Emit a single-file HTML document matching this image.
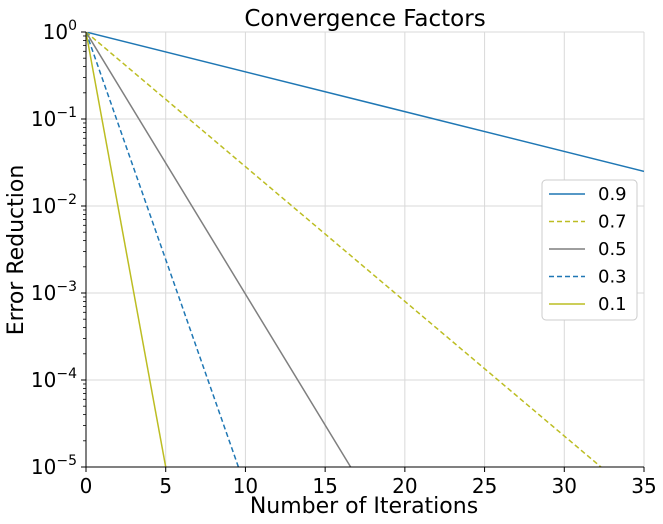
<!DOCTYPE html>
<html><head><meta charset="utf-8"><style>
body{margin:0;background:#fff;}
svg{display:block;font-family:"DejaVu Sans","Liberation Sans",sans-serif;}
</style></head><body>
<svg id="chart" width="663" height="524">
</svg>
<script>
const seriesLabels = ["0.9","0.7","0.5","0.3","0.1"];
const series09x = [0, 35];   const series09y = [1, 0.025];
const series07x = [0, 32.3]; const series07y = [1, 1e-5];
const series05x = [0, 16.6]; const series05y = [1, 1e-5];
const series03x = [0, 9.56]; const series03y = [1, 1e-5];
const series01x = [0, 5];    const series01y = [1, 1e-5];
const xTicks = [0,5,10,15,20,25,30,35];
const yTickExps = [0,-1,-2,-3,-4,-5];

const NS="http://www.w3.org/2000/svg";
const svg=document.getElementById('chart');
const X0=86,X1=644,Y0=32,Y1=467;
const sx=v=>X0+(v-0)/(35-0)*(X1-X0);
const sy=v=>Y0+(0-Math.log10(v))/5*(Y1-Y0);
function mk(t,a,p){const e=document.createElementNS(NS,t);for(const k in a)e.setAttribute(k,a[k]);(p||svg).appendChild(e);return e;}

xTicks.forEach(t=>{const l=mk('line',{x1:sx(t),x2:sx(t),y1:Y0,y2:Y1,stroke:'#d9d9d9','stroke-width':1});

});
yTickExps.forEach(e=>{const y=sy(Math.pow(10,e));const l=mk('line',{x1:X0,x2:X1,y1:y,y2:y,stroke:'#d9d9d9','stroke-width':1});

});

const defs=mk('defs',{});const cp=mk('clipPath',{id:'clip'},defs);mk('rect',{x:X0,y:Y0,width:X1-X0,height:Y1-Y0},cp);

const allS=[[series09x,series09y,'#1f77b4',''],[series07x,series07y,'#bcbd22','5,3'],[series05x,series05y,'#7f7f7f',''],[series03x,series03y,'#1f77b4','5,3'],[series01x,series01y,'#bcbd22','']];
allS.forEach((s,i)=>{
  const pts=s[0].map((x,j)=>sx(x)+','+sy(s[1][j])).join(' ');
  const p=mk('polyline',{points:pts,fill:'none',stroke:s[2],'stroke-width':1.5,'stroke-dasharray':s[3],'clip-path':'url(#clip)'});
  
  
});

mk('line',{x1:X0,x2:X0,y1:Y0,y2:Y1,stroke:'#000','stroke-width':1});
mk('line',{x1:X0,x2:X1,y1:Y1,y2:Y1,stroke:'#000','stroke-width':1});

xTicks.forEach(t=>{mk('line',{x1:sx(t),x2:sx(t),y1:Y1,y2:Y1+5,stroke:'#000'});
const tx=mk('text',{x:sx(t),y:Y1+26,'font-size':20,'text-anchor':'middle'});tx.textContent=t;

});
yTickExps.forEach(e=>{const y=sy(Math.pow(10,e));mk('line',{x1:X0-5,x2:X0,y1:y,y2:y,stroke:'#000'});
for(let m=2;m<10&&e>-5;m++){const ym=sy(Math.pow(10,e-1)*m);mk('line',{x1:X0-3,x2:X0,y1:ym,y2:ym,stroke:'#000','stroke-width':0.8});}
const tx=mk('text',{x:X0-9,y:y+7,'font-size':20,'text-anchor':'end'});
tx.innerHTML='10<tspan dy="-9" font-size="14">'+(e<0?'\u2212'+(-e):e)+'</tspan>';

});

let t=mk('text',{x:365,y:26,'font-size':23,'text-anchor':'middle'});t.textContent='Convergence Factors';


t=mk('text',{x:364,y:513,'font-size':22,'text-anchor':'middle'});t.textContent='Number of Iterations';


t=mk('text',{x:23,y:250,'font-size':22,'text-anchor':'middle',transform:'rotate(-90 23 250)'});t.textContent='Error Reduction';



const lg=mk('g',{});


mk('rect',{x:542,y:180,width:95,height:140,rx:4,fill:'#fff',stroke:'#ccc'},lg);
allS.forEach((s,i)=>{const y=194+i*27.5;
mk('line',{x1:549,x2:585,y1:y,y2:y,stroke:s[2],'stroke-width':1.5,'stroke-dasharray':s[3]},lg);
const tx=mk('text',{x:598,y:y+6,'font-size':18},lg);tx.textContent=seriesLabels[i];

});
</script>
</body></html>
